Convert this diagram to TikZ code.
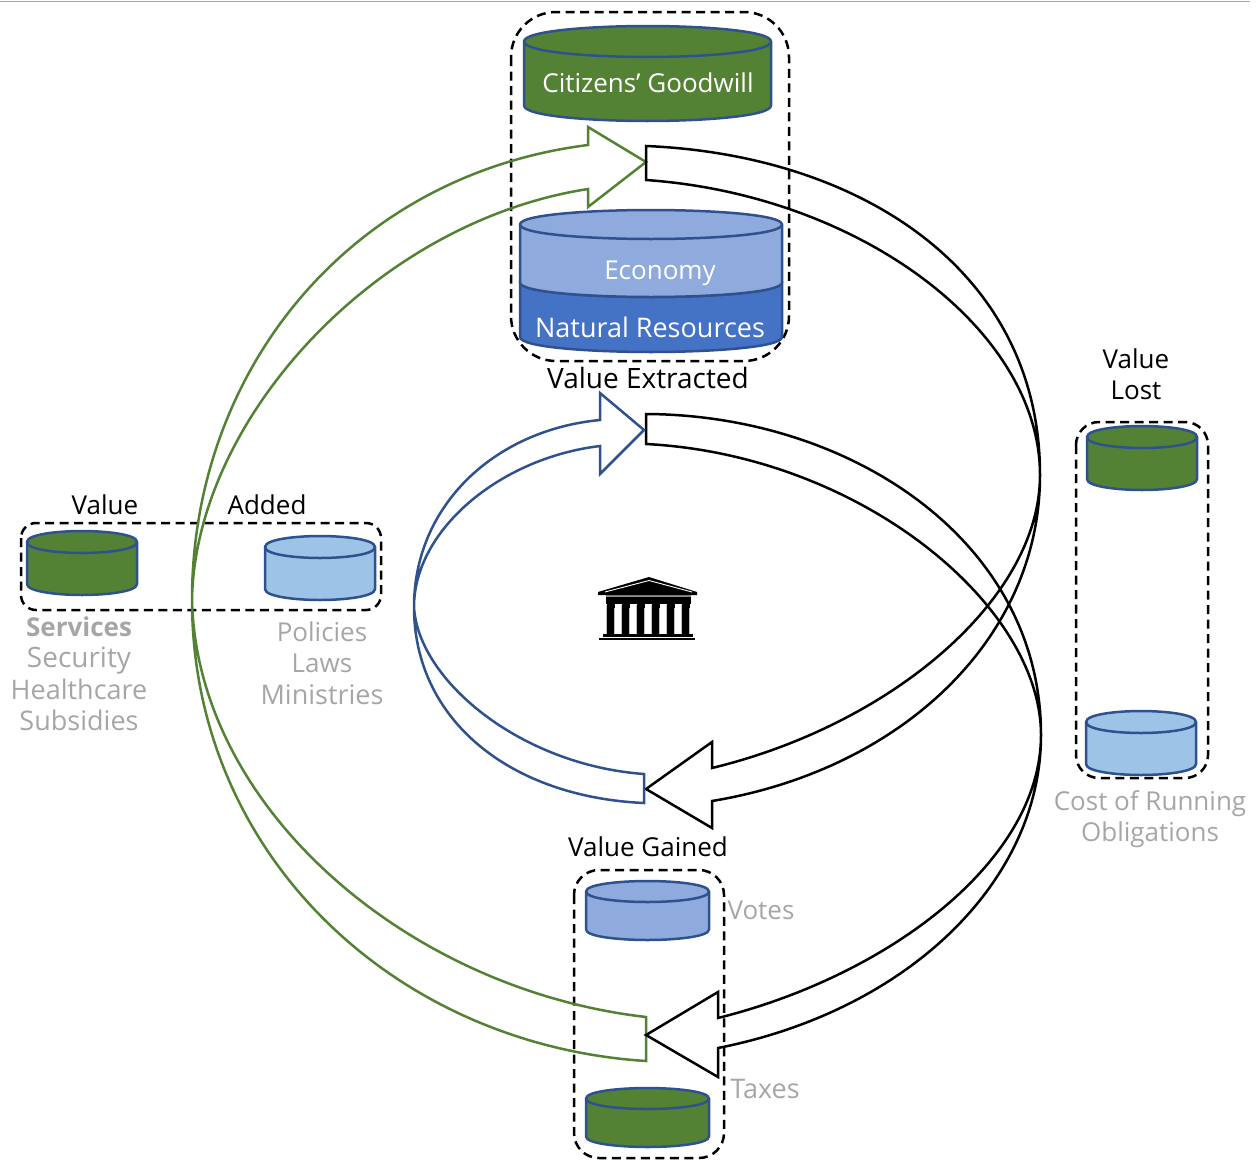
\documentclass[tikz,border=0pt]{standalone}
\usepackage{fontspec}
\setmainfont{Open Sans}
\definecolor{cgreen}{HTML}{548235}
\definecolor{cmid}{HTML}{8FAADC}
\definecolor{cdark}{HTML}{4472C4}
\definecolor{clight}{HTML}{9DC3E6}
\definecolor{cedge}{HTML}{2F528F}
\definecolor{cgrey}{HTML}{A6A6A6}
\definecolor{agreen}{HTML}{548235}
\definecolor{ablue}{HTML}{2F528F}
\newcommand{\cylshape}[6]{% x1,x2,top,bottom,ry,fill
  \path[cylstyle,fill=#6] (#1,#3+#5) -- (#1,#4-#5)
    .. controls (#1,#4-0.3*#5) and (#1*0.72+#2*0.28,#4) .. (#1*0.5+#2*0.5,#4)
    .. controls (#1*0.28+#2*0.72,#4) and (#2,#4-0.3*#5) .. (#2,#4-#5)
    -- (#2,#3+#5)
    .. controls (#2,#3+0.3*#5) and (#1*0.28+#2*0.72,#3) .. (#1*0.5+#2*0.5,#3)
    .. controls (#1*0.72+#2*0.28,#3) and (#1,#3+0.3*#5) .. (#1,#3+#5) -- cycle;
  \path[cylstyle] (#1,#3+#5)
    .. controls (#1,#3+1.7*#5) and (#1*0.72+#2*0.28,#3+2*#5) .. (#1*0.5+#2*0.5,#3+2*#5)
    .. controls (#1*0.28+#2*0.72,#3+2*#5) and (#2,#3+1.7*#5) .. (#2,#3+#5);
}
\tikzset{
  x=1pt,y=-1pt,
  cylstyle/.style={draw=cedge,line width=2.5pt,line join=round},
  groupbox/.style={draw=black,line width=2.5pt,dash pattern=on 9pt off 5.5pt},
  flow/.style={line width=2.5pt,line join=miter,miter limit=10},
  lbl/.style={inner sep=0pt,text height=18pt,text depth=0pt,font=\fontsize{26}{31}\selectfont},
  lsize/.style={font=\fontsize{#1}{31}\selectfont},
  blk/.style={lbl,text=black},
  wht/.style={lbl,text=white},
  gry/.style={lbl,text=cgrey},
}
\begin{document}
\begin{tikzpicture}
\useasboundingbox (0,0) rectangle (1256,1162);
\draw[line width=1.2pt,black!35] (0,1.5) -- (1250,1.5);

% group boxes
\draw[groupbox,rounded corners=45pt] (511,12) rectangle (789,361);
\draw[groupbox,rounded corners=15pt] (21,523) rectangle (381,610);
\draw[groupbox,rounded corners=23pt] (1076,422) rectangle (1208,778);
\draw[groupbox,rounded corners=25pt] (574,870) rectangle (724,1158);

% cylinders
\cylshape{524}{771}{26}{121}{15.5}{cgreen}
\cylshape{520}{782}{267}{352}{15}{cdark}
\cylshape{520}{782}{210}{297}{14.5}{cmid}
\cylshape{27}{137}{531}{595}{11}{cgreen}
\cylshape{265}{375}{536}{600}{11}{clight}
\cylshape{1087}{1197}{426}{490}{11}{cgreen}
\cylshape{1086}{1196}{711}{775}{11}{clight}
\cylshape{586}{709}{881}{940}{10.5}{cmid}
\cylshape{586}{709}{1088}{1147}{10.5}{cgreen}

% flows
\coordinate (gt1) at (646,1061); \coordinate (gt2) at (646,1017);
\coordinate (gm) at (192,600); \coordinate (gh) at (646,162);
\draw[flow,agreen] (gt1) .. controls (395,1045) and (192,855) .. (gm)
  .. controls (192,370) and (350,175) .. (588,145) -- (588,127) -- (gh) -- (588,207) -- (588,189)
  .. controls (375,222) and (195,420) .. (gm)
  .. controls (197,810) and (410,990) .. (gt2) -- cycle;

\coordinate (k1a) at (646,146); \coordinate (k1b) at (646,180);
\coordinate (k1m) at (1040,475); \coordinate (k1h) at (646,789);
\draw[flow,black] (k1a) .. controls (860,155) and (1040,270) .. (k1m)
  .. controls (1040,640) and (900,770) .. (712,801) -- (712,828) -- (k1h) -- (712,742) -- (712,768)
  .. controls (890,725) and (1040,600) .. (k1m)
  .. controls (1040,330) and (860,195) .. (k1b) -- cycle;

\coordinate (k2a) at (646,414); \coordinate (k2b) at (646,444);
\coordinate (k2m) at (1041,735); \coordinate (k2h) at (646,1035);
\draw[flow,black] (k2a) .. controls (850,415) and (1041,540) .. (k2m)
  .. controls (1041,880) and (910,1010) .. (718,1048) -- (718,1077) -- (k2h) -- (718,992) -- (718,1018)
  .. controls (890,975) and (1041,860) .. (k2m)
  .. controls (1041,605) and (860,455) .. (k2b) -- cycle;

\coordinate (b1) at (644,774); \coordinate (b2) at (644,803);
\coordinate (bm) at (414,607); \coordinate (bh) at (644,430);
\draw[flow,ablue] (b2) .. controls (510,797) and (414,720) .. (bm)
  .. controls (414,505) and (495,430) .. (600,420) -- (600,393) -- (bh) -- (600,474) -- (600,446)
  .. controls (500,458) and (414,530) .. (bm)
  .. controls (418,680) and (520,765) .. (b1) -- cycle;

% temple
\fill[black!45] (606,594.5) rectangle (691,597);
\fill[black] (649,577) -- (697,592) -- (697,595) -- (598,595) -- (598,592) -- cycle;
\draw[white,line width=0.9pt] (605,592) -- (649,580.5) -- (692,592);
\fill[black] (606,596.5) rectangle (691,604);
\foreach \cx in {610.5,625.5,640.5,655.5,670.5,685.5}{
  \fill[black!25] (\cx-4.6,604.5) rectangle (\cx+4.6,634.5);
  \fill[black] (\cx-4,604) rectangle (\cx+4,608);
  \fill[black] (\cx-3.4,608) rectangle (\cx+3.4,634.5);
}
\fill[black] (603,634) rectangle (693,637);
\fill[black] (599,637.5) rectangle (695,640);

% labels
\node[wht] (t1) at (648,83) {Citizens' Goodwill};
\node[wht] (t2) at (660,270) {Economy};
\node[wht,lsize=27] (t3) at (650,328) {Natural Resources};
\node[blk,lsize=28] (t4) at (648,379) {Value Extracted};
\node[blk] (t5) at (105,505) {Value};
\node[blk] (t6) at (267,505) {Added};
\node[blk] (t7) at (1136,359) {Value};
\node[blk] (t8) at (1136,390) {Lost};
\node[gry,font=\fontsize{26}{31}\selectfont\bfseries] (t9) at (79,627) {Services};
\node[gry,lsize=28] (t10) at (79,658) {Security};
\node[gry,lsize=27] (t11) at (79,690) {Healthcare};
\node[gry,lsize=27] (t12) at (79,721) {Subsidies};
\node[gry] (t13) at (322,632) {Policies};
\node[gry] (t14) at (322,663) {Laws};
\node[gry,lsize=27] (t15) at (322,695) {Ministries};
\node[blk] (t16) at (648,847) {Value Gained};
\node[gry] (t17) at (761,910) {Votes};
\node[gry,lsize=27] (t18) at (765,1089) {Taxes};
\node[gry] (t19) at (1150,801) {Cost of Running};
\node[gry] (t20) at (1150,832) {Obligations};
\end{tikzpicture}
\end{document}
